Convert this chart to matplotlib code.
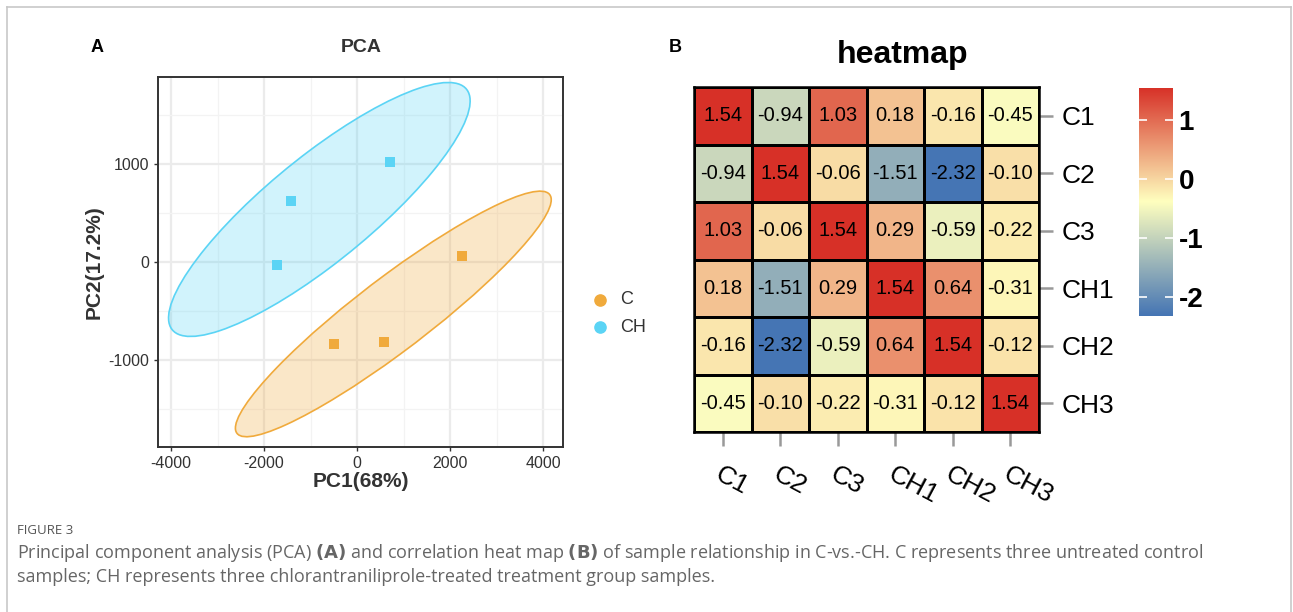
import numpy as np
import matplotlib
matplotlib.use("Agg")
import matplotlib.pyplot as plt
from matplotlib.patches import Ellipse
from matplotlib.colors import LinearSegmentedColormap

plt.rcParams['font.family'] = ['Liberation Sans', 'DejaVu Sans']
plt.rcParams['axes.unicode_minus'] = False

# PCA scores
groups = ["C", "CH"]
pc1_c = [-495, 580, 2258]
pc2_c = [-837, -816, 61]
pc1_ch = [-1720, -1420, 710]
pc2_ch = [-30, 620, 1020]
group_colors = {"C": "#F0AA3C", "CH": "#5BD4F5"}

# correlation heatmap (panel B)
samples = ["C1", "C2", "C3", "CH1", "CH2", "CH3"]
corr = np.array([
    [1.54, -0.94, 1.03, 0.18, -0.16, -0.45],
    [-0.94, 1.54, -0.06, -1.51, -2.32, -0.10],
    [1.03, -0.06, 1.54, 0.29, -0.59, -0.22],
    [0.18, -1.51, 0.29, 1.54, 0.64, -0.31],
    [-0.16, -2.32, -0.59, 0.64, 1.54, -0.12],
    [-0.45, -0.10, -0.22, -0.31, -0.12, 1.54],
])
cbar_ticks = [1, 0, -1, -2]

fig = plt.figure(figsize=(12.93, 6.12), dpi=100)

# outer frame
frame_col = "#C8C8C8"
fig.add_artist(plt.Line2D([7/1293, 7/1293], [0, 1 - 7/612], transform=fig.transFigure, color=frame_col, lw=1.2))
fig.add_artist(plt.Line2D([7/1293, 1291/1293], [1 - 7/612, 1 - 7/612], transform=fig.transFigure, color=frame_col, lw=1.2))
fig.add_artist(plt.Line2D([1291/1293, 1291/1293], [0, 1 - 7/612], transform=fig.transFigure, color=frame_col, lw=1.2))

# ---- panel A: PCA
ax = fig.add_axes([158/1293, 1 - 447/612, 405/1293, 370/612])
r = np.sqrt(-2 * np.log(0.05))  # 95% chi-square, 2 df
for g, xs, ys in [("C", pc1_c, pc2_c), ("CH", pc1_ch, pc2_ch)]:
    xs = np.array(xs, float)
    ys = np.array(ys, float)
    cov = np.cov(xs, ys)
    vals, vecs = np.linalg.eigh(cov)
    ang = np.degrees(np.arctan2(vecs[1, 1], vecs[0, 1]))
    ell = Ellipse((xs.mean(), ys.mean()), 2 * r * np.sqrt(vals[1]), 2 * r * np.sqrt(vals[0]),
                  angle=ang, facecolor=group_colors[g], alpha=0.28, edgecolor="none", zorder=2)
    ax.add_patch(ell)
    ell2 = Ellipse((xs.mean(), ys.mean()), 2 * r * np.sqrt(vals[1]), 2 * r * np.sqrt(vals[0]),
                   angle=ang, facecolor="none", edgecolor=group_colors[g], lw=1.2, zorder=3)
    ax.add_patch(ell2)
    ax.scatter(xs, ys, marker="s", s=45, color=group_colors[g], zorder=4, linewidths=0)

ax.set_xlim(-4280, 4430)
ax.set_ylim(-1890, 1890)
ax.set_xticks([-4000, -2000, 0, 2000, 4000])
ax.set_yticks([-1000, 0, 1000])
ax.set_xticks([-3000, -1000, 1000, 3000], minor=True)
ax.set_yticks([-1500, -500, 500, 1500], minor=True)
ax.grid(which="major", color="#EBEBEB", lw=1.6, zorder=0)
ax.grid(which="minor", color="#F3F3F3", lw=0.9, zorder=0)
ax.set_axisbelow(True)
for s in ax.spines.values():
    s.set_linewidth(1.4)
    s.set_color("#333333")
ax.tick_params(which="major", length=3, width=1, color="#333333", labelsize=11.5, labelcolor="#333333")
ax.tick_params(which="minor", length=0)
ax.set_xlabel("PC1(68%)", fontsize=15, fontweight="bold", color="#333333", labelpad=1)
ax.set_ylabel("PC2(17.2%)", fontsize=15, fontweight="bold", color="#333333", labelpad=3)
fig.text(361/1293, 1 - 48/612, "PCA", fontsize=14, fontweight="bold", color="#333333", ha="center", va="center")

# legend
for g in groups:
    ax.scatter([], [], color=group_colors[g], s=65, label=g)
leg = ax.legend(loc="center left", bbox_to_anchor=(1.03, 0.36), frameon=False, fontsize=13,
                handletextpad=0.1, labelspacing=0.6, borderaxespad=0)
for t in leg.get_texts():
    t.set_color("#333333")

fig.text(97/1293, 1 - 47/612, "A", fontsize=13, fontweight="bold", ha="center", va="center")
fig.text(675/1293, 1 - 47/612, "B", fontsize=13, fontweight="bold", ha="center", va="center")

# ---- panel B: heatmap
cmap = LinearSegmentedColormap.from_list("rdylbu3", ["#4575B4", "#FFFFBF", "#D73027"])
vmin, vmax = corr.min(), corr.max()
hx = fig.add_axes([694/1293, 1 - 432/612, 345/1293, 345/612])
n = len(samples)
hx.pcolormesh(np.arange(n + 1), np.arange(n + 1), corr, cmap=cmap, vmin=vmin, vmax=vmax,
              edgecolors="black", linewidth=1.8)
hx.set_xlim(0, n)
hx.set_ylim(n, 0)
for i in range(n):
    for j in range(n):
        hx.text(j + 0.5, i + 0.5, f"{corr[i, j]:.2f}", ha="center", va="center", fontsize=14.5)
for s in hx.spines.values():
    s.set_linewidth(1.8)
hx.set_xticks(np.arange(n) + 0.5)
hx.set_yticks(np.arange(n) + 0.5)
hx.yaxis.tick_right()
hx.set_yticklabels(samples, fontsize=19)
hx.set_xticklabels(samples, fontsize=19, rotation=-28, ha="left", va="top", rotation_mode="anchor")
hx.tick_params(axis="both", length=10, width=1.8, color="#999999", pad=6)
hx.tick_params(axis="x", pad=12)
fig.text(903/1293, 1 - 55/612, "heatmap", fontsize=23, fontweight="bold", ha="center", va="center")

# colorbar
cax = fig.add_axes([1139/1293, 1 - 316/612, 34/1293, 228/612])
grad = np.linspace(vmax, vmin, 256).reshape(-1, 1)
cax.imshow(grad, aspect="auto", cmap=cmap, vmin=vmin, vmax=vmax,
           extent=[0, 1, vmin, vmax], origin="upper")
cax.set_xlim(0, 1)
cax.set_ylim(vmin, vmax)
for s in cax.spines.values():
    s.set_visible(False)
cax.set_xticks([])
cax.yaxis.tick_right()
cax.set_yticks(cbar_ticks)
cax.set_yticklabels([str(t) for t in cbar_ticks], fontsize=20, fontweight="bold")
cax.tick_params(axis="y", direction="in", length=6, width=1.2, color="white", pad=4, left=True)

# caption
fig.text(17/1293, 1 - 531/612, "FIGURE 3", fontsize=9.5, color="#555555", va="center", family="Open Sans")
fig.text(17/1293, 1 - 553/612,
         "Principal component analysis (PCA) $\\mathbf{(A)}$ and correlation heat map $\\mathbf{(B)}$ of sample relationship in C-vs.-CH. C represents three untreated control",
         fontsize=13, color="#666666", va="center", family="Open Sans")
fig.text(17/1293, 1 - 577/612,
         "samples; CH represents three chlorantraniliprole-treated treatment group samples.",
         fontsize=13, color="#666666", va="center", family="Open Sans")

fig.savefig("out.png", dpi=100)
